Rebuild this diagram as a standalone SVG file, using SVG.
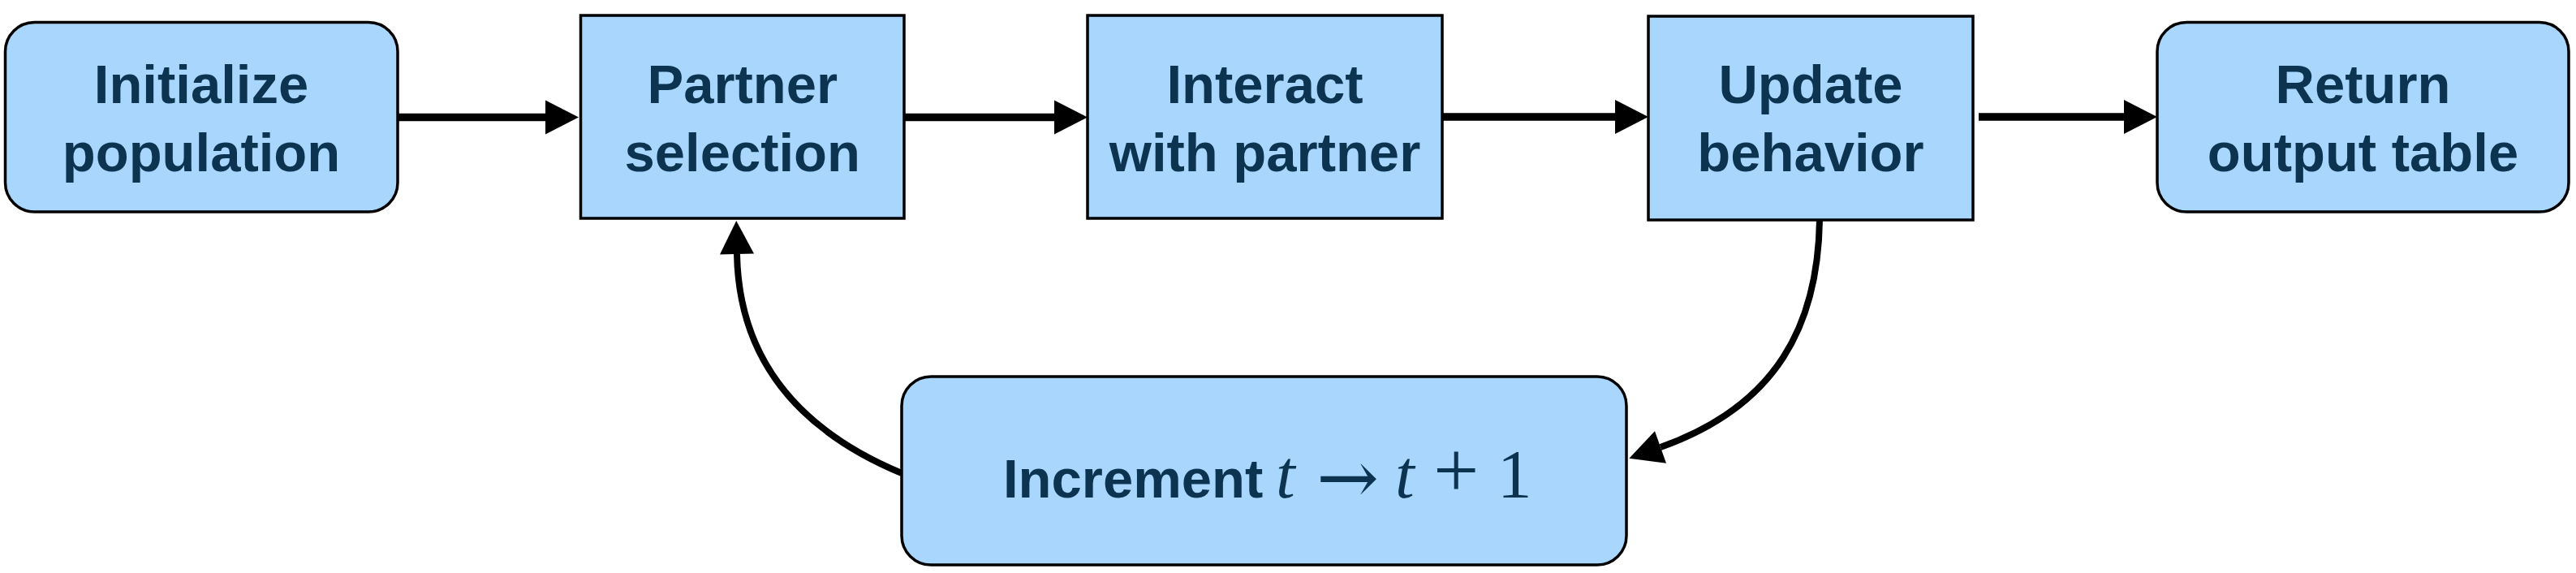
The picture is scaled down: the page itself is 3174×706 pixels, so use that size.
<svg xmlns="http://www.w3.org/2000/svg" width="3174" height="706" viewBox="0 0 3174 706">
  <style>
    .box { fill: #a8d6fc; stroke: #000; stroke-width: 3.5; }
    .lbl { font-family: "Liberation Sans", Arial, sans-serif; font-weight: bold; font-size: 67px; fill: #0c3350; text-anchor: middle; }
    .math { font-family: "Liberation Serif", "DejaVu Serif", serif; font-size: 85px; fill: #0c3350; }
    .edge { fill: none; stroke: #000; stroke-width: 9.5; }
    .curve { fill: none; stroke: #000; stroke-width: 8; }
  </style>
  <defs>
    <marker id="head" markerUnits="userSpaceOnUse" markerWidth="44" markerHeight="44" refX="0" refY="21" orient="auto" overflow="visible">
      <path d="M0,0 L41,21 L0,42 Z" fill="#000"/>
    </marker>
  </defs>
  <rect width="3174" height="706" fill="#fff"/>

  <g id="connectors">
    <path class="edge" d="M490,144.5 L672,144.5" marker-end="url(#head)"/>
    <path class="edge" d="M1114,144.5 L1299,144.5" marker-end="url(#head)"/>
    <path class="edge" d="M1777,144 L1990,144" marker-end="url(#head)"/>
    <path class="edge" d="M2438,144 L2617,144" marker-end="url(#head)"/>
    <path class="curve" d="M1111,583 C960,520 910,420 908,313" marker-end="url(#head)"/>
    <path class="curve" d="M2242,271 C2240,400 2190,500 2046,551" marker-end="url(#head)"/>
  </g>

  <g id="node-initialize">
    <rect class="box" x="6.5" y="27.5" width="483.5" height="233.5" rx="36" ry="36"/>
    <text class="lbl" x="248" y="127">Initialize</text>
    <text class="lbl" x="248" y="211">population</text>
  </g>

  <g id="node-partner">
    <rect class="box" x="715.5" y="19" width="398.5" height="250"/>
    <text class="lbl" x="914.75" y="127">Partner</text>
    <text class="lbl" x="914.75" y="211">selection</text>
  </g>

  <g id="node-interact">
    <rect class="box" x="1340" y="19" width="437" height="250"/>
    <text class="lbl" x="1558.5" y="127">Interact</text>
    <text class="lbl" x="1558.5" y="211">with partner</text>
  </g>

  <g id="node-update">
    <rect class="box" x="2031" y="20" width="400" height="251"/>
    <text class="lbl" x="2231" y="127">Update</text>
    <text class="lbl" x="2231" y="211">behavior</text>
  </g>

  <g id="node-return">
    <rect class="box" x="2658" y="27.5" width="507" height="233.5" rx="36" ry="36"/>
    <text class="lbl" x="2911.5" y="127">Return</text>
    <text class="lbl" x="2911.5" y="211">output table</text>
  </g>

  <g id="node-increment">
    <rect class="box" x="1111" y="464" width="893" height="232" rx="36" ry="36"/>
    <text class="lbl" x="1236" y="613" style="text-anchor:start">Increment</text>
    <text class="math" y="613"><tspan x="1572" font-style="italic">t</tspan><tspan x="1622" y="620" font-family="DejaVu Serif, serif" font-size="92">→</tspan><tspan x="1719" y="613" font-style="italic">t</tspan><tspan x="1766" font-size="100">+</tspan><tspan x="1845">1</tspan></text>
  </g>
</svg>
